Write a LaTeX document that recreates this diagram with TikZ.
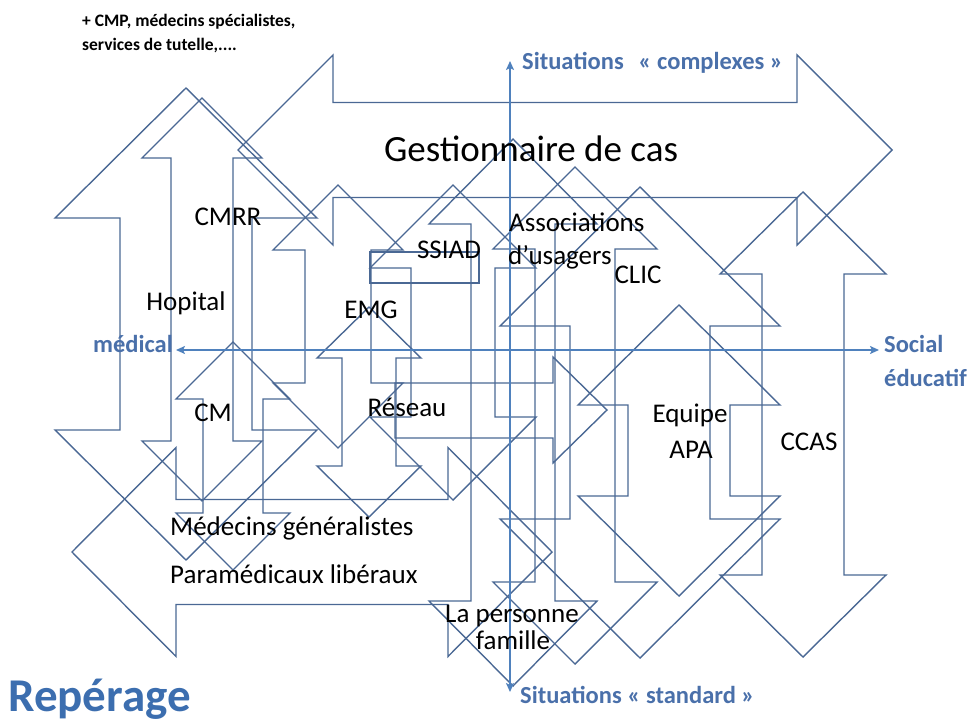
\documentclass[tikz,border=0pt]{standalone}
\usepackage{fontspec}
\setmainfont{Carlito}
\usetikzlibrary{arrows.meta}
\definecolor{arrowline}{RGB}{74,104,148}
\definecolor{axisblue}{RGB}{79,129,189}
\definecolor{labelblue}{RGB}{74,112,170}
\definecolor{repblue}{RGB}{60,110,175}
\newcommand\UDArrow[6]{% cx, top, bottom, head half width, head length, shaft half width
  \draw[arrowshape] (#1,#2) -- ({#1+#4},{#2+#5}) -- ({#1+#6},{#2+#5}) -- ({#1+#6},{#3-#5}) -- ({#1+#4},{#3-#5}) -- (#1,#3) -- ({#1-#4},{#3-#5}) -- ({#1-#6},{#3-#5}) -- ({#1-#6},{#2+#5}) -- ({#1-#4},{#2+#5}) -- cycle;}
\newcommand\LRArrow[6]{% cy, left, right, head half height, head length, shaft half height
  \draw[arrowshape] (#2,#1) -- ({#2+#5},{#1-#4}) -- ({#2+#5},{#1-#6}) -- ({#3-#5},{#1-#6}) -- ({#3-#5},{#1-#4}) -- (#3,#1) -- ({#3-#5},{#1+#4}) -- ({#3-#5},{#1+#6}) -- ({#2+#5},{#1+#6}) -- ({#2+#5},{#1+#4}) -- cycle;}
\tikzset{
  arrowshape/.style={draw=arrowline, line width=1.4pt, line join=miter},
  lab/.style={font=\fontsize{27}{29}\selectfont, text=black, inner sep=0pt},
  axislab/.style={font=\fontsize{24.5}{28}\selectfont\bfseries, text=labelblue, inner sep=0pt},
  axisline/.style={draw=axisblue, line width=1.8pt, {Stealth[length=9pt,width=8pt,inset=2pt]}-{Stealth[length=9pt,width=8pt,inset=2pt]}},
}
\begin{document}
\begin{tikzpicture}[x=1pt,y=-1pt]
\useasboundingbox (0,0) rectangle (974,722);
% vertical double arrows
\UDArrow{186}{88}{560}{131}{130}{66}   % Hopital
\UDArrow{202}{98}{501}{60}{60}{31}     % CMRR
\UDArrow{233}{342}{570}{57}{57}{30}    % CM
\UDArrow{338}{185}{448}{65}{65}{33}    % big middle
\UDArrow{369}{307}{517}{52}{51}{27}    % EMG
\UDArrow{453}{185}{500}{83}{83}{42}    % SSIAD
\UDArrow{513}{139}{686}{84}{85}{42}    % La personne
\UDArrow{575}{167}{664}{82}{82}{40}    % Associations
\UDArrow{640}{187}{658}{140}{139}{70}  % CLIC
\UDArrow{679}{305}{596}{101}{100}{51}  % Equipe APA
\UDArrow{803}{192}{657}{83}{82}{41}    % CCAS
% horizontal double arrows
\LRArrow{150}{238}{892}{95}{95}{47.5}  % Gestionnaire de cas
\LRArrow{552}{72}{552}{104.5}{104}{52.5} % Medecins
% Reseau (right-pointing)
\draw[arrowshape] (395,383) -- (553,383) -- (553,357) -- (607,410) -- (553,463) -- (553,438) -- (395,438) -- cycle;
\draw[arrowshape] (370,252) rectangle (479,283);
% axes
\coordinate (axL) at (176,350);
\coordinate (axR) at (879,350);
\coordinate (axT) at (510,61);
\coordinate (axB) at (510,692);
\draw[axisline] (axL) -- (axR);
\draw[axisline] (axB) -- (axT);
% labels
\node[font=\fontsize{17.5}{20}\selectfont\bfseries, anchor=west, inner sep=0pt] (top1) at (82,22) {+ CMP, médecins spécialistes,};
\node[font=\fontsize{17.5}{20}\selectfont\bfseries, anchor=west, inner sep=0pt] (top2) at (82,46) {services de tutelle,....};
\node[axislab, anchor=west] (complexe) at (522,63) {Situations\hspace{0.6em}«~complexes~»};
\node[axislab, anchor=west] (standard) at (520,695) {Situations~«~standard~»};
\node[axislab, anchor=east] (medical) at (173,344) {médical};
\node[axislab, anchor=west] (social) at (884,344) {Social};
\node[axislab, anchor=west] (educatif) at (884,378) {éducatif};
\node[font=\fontsize{47}{50}\selectfont\bfseries, text=repblue, anchor=base west, inner sep=0pt] (reperage) at (8,711) {Repérage};
\node[lab, font=\fontsize{37}{40}\selectfont] (gest) at (531,149) {Gestionnaire de cas};
\node[lab] (cmrr) at (228,217) {CMRR};
\node[lab] (ssiad) at (449,250) {SSIAD};
\node[lab, anchor=west] (assoc) at (509,222) {Associations};
\node[lab, anchor=west] (usagers) at (508,257) {d’usagers};
\node[lab] (clic) at (638,275) {CLIC};
\node[lab] (hopital) at (186,303) {Hopital};
\node[lab] (emg) at (371,310) {EMG};
\node[lab] (cm) at (213,413) {CM};
\node[lab] (reseau) at (407,407) {Réseau};
\node[lab] (equipe) at (690,415) {Equipe};
\node[lab] (apa) at (691,450) {APA};
\node[lab] (ccas) at (809,442) {CCAS};
\node[lab, anchor=west] (medgen) at (170,528) {Médecins généralistes};
\node[lab, anchor=west] (paramed) at (170,574) {Paramédicaux libéraux};
\node[lab] (personne) at (512,616) {La personne};
\node[lab] (famille) at (513,640) {famille};
\end{tikzpicture}
\end{document}
